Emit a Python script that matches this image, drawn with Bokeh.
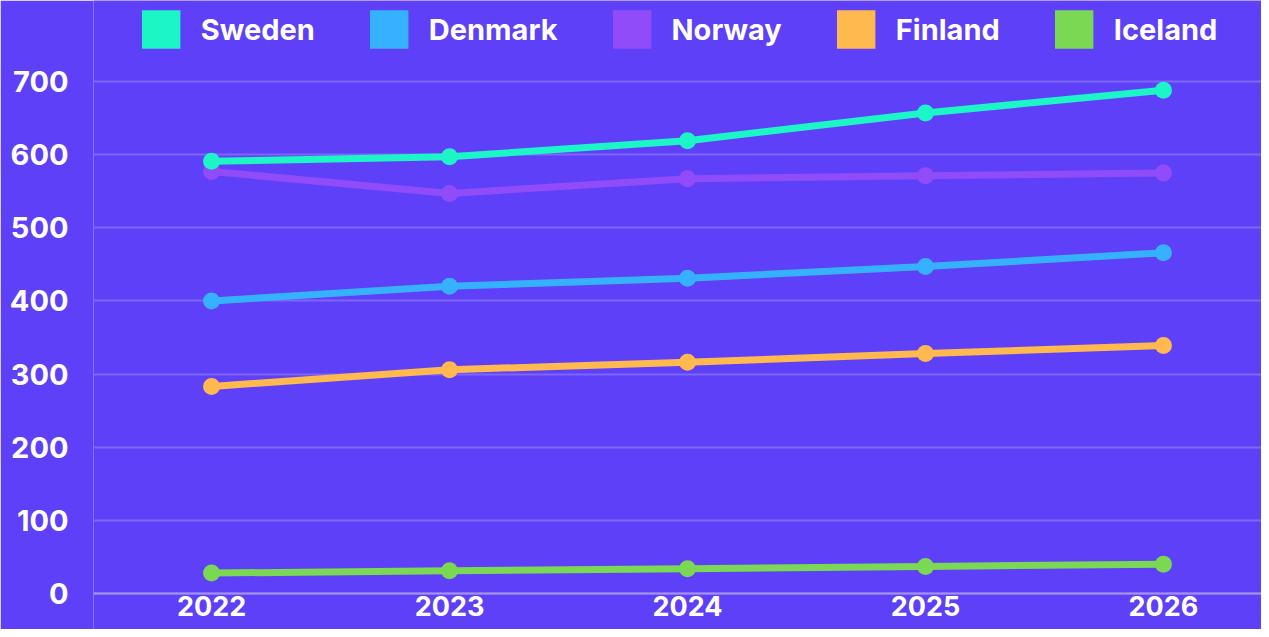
from bokeh.plotting import figure
from bokeh.models import Range1d, FixedTicker, Legend, LegendItem, ColumnDataSource
from bokeh.embed import file_html
from bokeh.resources import INLINE

years = [2022, 2023, 2024, 2025, 2026]
series_names = ["Sweden", "Denmark", "Norway", "Finland", "Iceland"]
sweden = [591, 597, 619, 657, 688]
denmark = [400, 420, 431, 447, 466]
norway = [577, 547, 567, 571, 575]
finland = [283, 306, 316, 328, 339]
iceland = [28, 31, 34, 37, 40]
colors = ["#1cf5c6", "#36b1ff", "#914cf9", "#ffb94f", "#7ad852"]
y_ticks = [0, 100, 200, 300, 400, 500, 600, 700]

values = [sweden, denmark, norway, finland, iceland]
BG = "#5e40f8"
FONT = "Inter"

p = figure(width=1261, height=629, output_backend="svg", toolbar_location=None,
           x_range=Range1d(2021.504, 2026.412), y_range=Range1d(-49.2, 810.7),
           min_border_left=93, min_border_right=0, min_border_top=0, min_border_bottom=0)
p.background_fill_color = BG
p.border_fill_color = BG
p.outline_line_color = None

# draw order: Iceland, Finland, Denmark, Norway, Sweden (Sweden on top)
order = [4, 3, 1, 2, 0]
for i in order:
    src = ColumnDataSource(dict(x=years, y=values[i]))
    p.line("x", "y", source=src, line_color=colors[i], line_width=7)
    p.scatter("x", "y", source=src, size=17, fill_color=colors[i], line_color=None)

# legend swatches (single off-range quad each, only used for the legend glyph)
items = []
for name, c in zip(series_names, colors):
    r = p.quad(left=[1990], right=[1990.5], top=[0], bottom=[-1], fill_color=c, line_color=None)
    items.append(LegendItem(label=name, renderers=[r]))

legend = Legend(items=items, orientation="horizontal", location="top_center",
                glyph_width=48, glyph_height=48, label_standoff=16, spacing=50,
                padding=0, margin=5, background_fill_alpha=0, border_line_alpha=0,
                label_text_font=FONT, label_text_font_size="29px",
                label_text_font_style="bold", label_text_color="#ffffff",
                label_text_baseline="middle")
p.add_layout(legend, "center")

p.xgrid.grid_line_color = None
p.ygrid.grid_line_color = "#7d66fa"
p.ygrid.grid_line_width = 2
p.yaxis.ticker = FixedTicker(ticks=y_ticks)
p.xaxis.ticker = FixedTicker(ticks=years)

for ax in (p.xaxis, p.yaxis):
    ax.major_tick_line_color = None
    ax.minor_tick_line_color = None
    ax.major_tick_out = 0
    ax.major_tick_in = 0
    ax.major_label_text_font = FONT
    ax.major_label_text_font_style = "bold"
    ax.major_label_text_color = "#ffffff"

p.yaxis.major_label_text_font_size = "29px"
p.xaxis.major_label_text_font_size = "27px"
p.yaxis.axis_line_color = None
p.yaxis.major_label_standoff = 25
p.xaxis.fixed_location = 0
p.xaxis.axis_line_color = "#a393fc"
p.xaxis.axis_line_width = 2
p.xaxis.major_label_standoff = 2

open("out.html", "w").write(file_html(p, INLINE))
